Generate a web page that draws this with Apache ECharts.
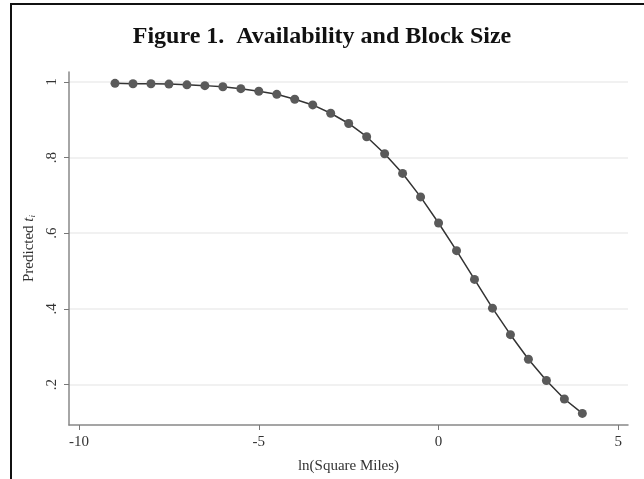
<!DOCTYPE html>
<html>
<head>
<meta charset="utf-8">
<title>Availability and Block Size</title>
<style>
	* { margin: 0; padding: 0; }
	body { background: #fff; }
	#chart { width: 644px; height: 479px; }
</style>
</head>
<body>
<div id="chart"></div>
<script src="https://cdn.jsdelivr.net/npm/echarts@6/dist/echarts.min.js"></script>
<script>
// ln(square miles), -9 .. 4 by 0.5
var lnMiles = [-9, -8.5, -8, -7.5, -7, -6.5, -6, -5.5, -5, -4.5, -4, -3.5, -3, -2.5, -2,
	-1.5, -1, -0.5, 0, 0.5, 1, 1.5, 2, 2.5, 3, 3.5, 4];
// predicted t_i
var predicted = [0.996, 0.995, 0.995, 0.994, 0.992, 0.990, 0.987, 0.982, 0.975, 0.967, 0.954,
	0.939, 0.917, 0.890, 0.855, 0.810, 0.758, 0.696, 0.627, 0.554, 0.478, 0.402, 0.332,
	0.267, 0.211, 0.162, 0.124];
var xTicks = [-10, -5, 0, 5];
var yTicks = [0.2, 0.4, 0.6, 0.8, 1];

var serif = '"Liberation Serif", "DejaVu Serif", serif';
var chart = echarts.init(document.getElementById('chart'));

var points = lnMiles.map(function (x, i) { return [x, predicted[i]]; });

chart.setOption({
	animation: false,
	title: {
		text: 'Figure 1.  Availability and Block Size',
		left: 'center',
		top: 20,
		textStyle: { fontFamily: serif, fontSize: 24, fontWeight: 'bold', color: '#111' }
	},
	graphic: [{
		// page frame, runs off right and bottom
		type: 'rect',
		shape: { x: 11, y: 4, width: 700, height: 520 },
		style: { fill: 'none', stroke: '#111', lineWidth: 2 },
		silent: true
	}],
	grid: { left: 69, right: 16, top: 72, bottom: 48 },
	xAxis: {
		type: 'value',
		min: -10.28,
		max: 5.27,
		name: 'ln(Square Miles)',
		nameLocation: 'middle',
		nameGap: 34,
		nameTextStyle: { fontFamily: serif, fontSize: 15, color: '#333' },
		axisLine: { onZero: false, lineStyle: { color: '#888', width: 1.5 } },
		axisTick: { customValues: xTicks, length: 5, lineStyle: { color: '#777' } },
		axisLabel: { customValues: xTicks, fontFamily: serif, fontSize: 15, color: '#333', margin: 10 },
		splitLine: { show: false }
	},
	yAxis: {
		type: 'value',
		min: 0.0934,
		max: 1.026,
		name: '{a|Predicted }{b|t}{c|i}',
		nameLocation: 'middle',
		nameGap: 32,
		nameRotate: 90,
		nameTextStyle: {
			fontFamily: serif, fontSize: 15, color: '#333',
			rich: {
				a: { fontFamily: serif, fontSize: 15, color: '#333' },
				b: { fontFamily: serif, fontSize: 15, fontStyle: 'italic', color: '#333' },
				c: { fontFamily: serif, fontSize: 9, fontStyle: 'italic', color: '#333', verticalAlign: 'bottom', padding: [6, 0, 0, 0] }
			}
		},
		axisLine: { show: true, onZero: false, lineStyle: { color: '#888', width: 1.5 } },
		axisTick: { show: true, customValues: yTicks, length: 5, lineStyle: { color: '#777' } },
		axisLabel: {
			customValues: yTicks,
			rotate: 90,
			fontFamily: serif, fontSize: 15, color: '#333', margin: 9,
			formatter: function (v) { return v === 1 ? '1' : String(v).replace('0.', '.'); }
		},
		splitLine: { show: true, lineStyle: { color: '#ececec', width: 1.5 } }
	},
	series: [{
		type: 'line',
		data: points,
		symbol: 'circle',
		symbolSize: 9,
		lineStyle: { color: '#333', width: 1.5 },
		itemStyle: { color: '#5a5a5a' }
	}]
});
</script>
</body>
</html>
